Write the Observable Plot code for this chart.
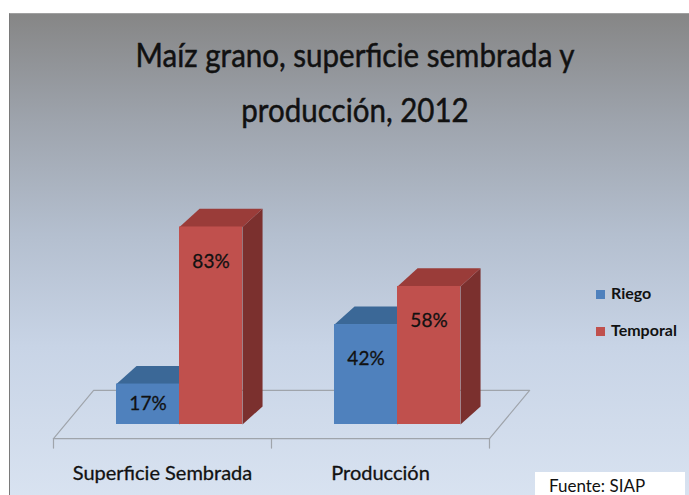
<!DOCTYPE html>
<html><head><meta charset="utf-8">
<script src="https://cdn.jsdelivr.net/npm/d3@7"></script>
<script src="https://cdn.jsdelivr.net/npm/@observablehq/plot@0.6"></script>
<style>
body{margin:0;background:#fff;}
#wrap{position:relative;width:689px;height:495px;overflow:hidden;background:#fff;font-family:Lato,"Open Sans",sans-serif;}
#panel{position:absolute;left:9px;top:13px;width:680px;height:490px;
  background:linear-gradient(to bottom,#868686 0%,#9ea4ad 22%,#b4bfcf 45%,#c8d4e6 68%,#d9e3f1 100%);
  border-left:1px solid #7a7a7a;border-top:1px solid #a0a0a0;}
#title{position:absolute;left:0;top:27px;width:710px;text-align:center;font-size:33px;line-height:55px;color:#111;
  transform:scaleX(0.895);transform-origin:355px 0;-webkit-text-stroke:0.5px #111;}
#chart{position:absolute;left:0;top:0;}
.leg{position:absolute;left:596px;font-weight:bold;font-size:16px;color:#111;}
.leg span{display:inline-block;width:9px;height:9px;margin-right:6px;vertical-align:0px;}
#src{position:absolute;left:535px;top:472px;width:150px;height:26px;background:#fff;font-size:17px;color:#111;}
#src div{position:absolute;left:14px;top:3px;}
</style></head>
<body>
<div id="wrap">
  <div id="panel"></div>
  <div id="title"></div>
  <div id="chart"></div>
  <div id="legend"></div>
  <div id="src"><div></div></div>
</div>
<script>
const titleLines = ["Maíz grano, superficie sembrada y", "producción, 2012"];
const categories = ["Superficie Sembrada", "Producción"];
const series = ["Riego", "Temporal"];
const riego = [17, 42];
const temporal = [83, 58];
const source = "Fuente: SIAP";

const front = {Riego: "#4f81bd", Temporal: "#c0504d"};
const top_ = {Riego: "#3b6897", Temporal: "#9a3c39"};
const side = {Riego: "#30567f", Temporal: "#7b302e"};

const BW = 0.289;      // half-group bar width in x units
const DX = 0.092, DY = 7.6;   // depth offset (x units, % units)
const FX = -0.078, FY = -5.9; // floor front offset
const BX = 0.106, BY = 14.3;  // floor back offset

const rows = [];
categories.forEach((c, i) => {
  [riego[i], temporal[i]].forEach((v, j) => {
    const x1 = i + 0.5 - BW + j * BW;
    rows.push({cat: c, series: series[j], value: v, x1, x2: x1 + BW, id: rows.length});
  });
});

// depth faces as polygons
const faces = [];
rows.forEach(r => {
  const s = r.id * 2;
  [[r.x2, 0], [r.x2, r.value], [r.x2 + DX, r.value + DY], [r.x2 + DX, DY]].forEach(([x, y]) =>
    faces.push({x, y, z: s, bar: r.id, fill: side[r.series]}));
  [[r.x1, r.value], [r.x2, r.value], [r.x2 + DX, r.value + DY], [r.x1 + DX, r.value + DY]].forEach(([x, y]) =>
    faces.push({x, y, z: s + 1, bar: r.id, fill: top_[r.series]}));
});

const floor = [
  {x: 0 + FX, y: FY}, {x: 2 + FX, y: FY}, {x: 2 + BX, y: BY}, {x: 0 + BX, y: BY}, {x: 0 + FX, y: FY}
];
const ticks = [0, 1, 2].flatMap(k => [{x: k + FX, y: FY, k}, {x: k + FX, y: FY - 4, k}]);

const marks = [
  Plot.line(floor, {x: "x", y: "y", stroke: "#9fa4ab", strokeWidth: 1.2}),
  Plot.line(ticks, {x: "x", y: "y", z: "k", stroke: "#9fa4ab", strokeWidth: 1.2})
];
rows.forEach(r => {
  marks.push(Plot.line(faces.filter(f => f.bar === r.id), {x: "x", y: "y", z: "z", fill: "fill", stroke: null}));
  marks.push(Plot.rect([r], {x1: "x1", x2: "x2", y1: 0, y2: "value", fill: front[r.series]}));
});
marks.push(Plot.text(rows, {
  x: d => (d.x1 + d.x2) / 2, y: d => Math.max(d.value / 2, d.value - 14.5),
  text: d => d.value + "%", fontSize: 19, fill: "#111", stroke: "#111", strokeWidth: 0.3
}));
marks.push(Plot.text(categories, {
  x: (d, i) => i + 0.5 + FX, y: FY, dy: 35, text: d => d, fontSize: 20, fill: "#111", stroke: "#111", strokeWidth: 0.3
}));

const chart = Plot.plot({
  width: 689, height: 495,
  marginLeft: 70, marginRight: 183, marginTop: 186, marginBottom: 71,
  x: {domain: [0, 2], axis: null},
  y: {domain: [0, 100], axis: null},
  color: {type: "identity"},
  style: {background: "transparent", fontFamily: "Lato, 'Open Sans', sans-serif", overflow: "visible"},
  marks
});
document.getElementById("chart").append(chart);

document.getElementById("title").innerHTML = titleLines.map(t => `<div>${t}</div>`).join("");
document.querySelector("#src div").textContent = source;
const legTops = [283, 320];
document.getElementById("legend").innerHTML = series.map((s, i) =>
  `<div class="leg" style="top:${legTops[i]}px"><span style="background:${front[s]}"></span>${s}</div>`).join("");
</script>
</body></html>
